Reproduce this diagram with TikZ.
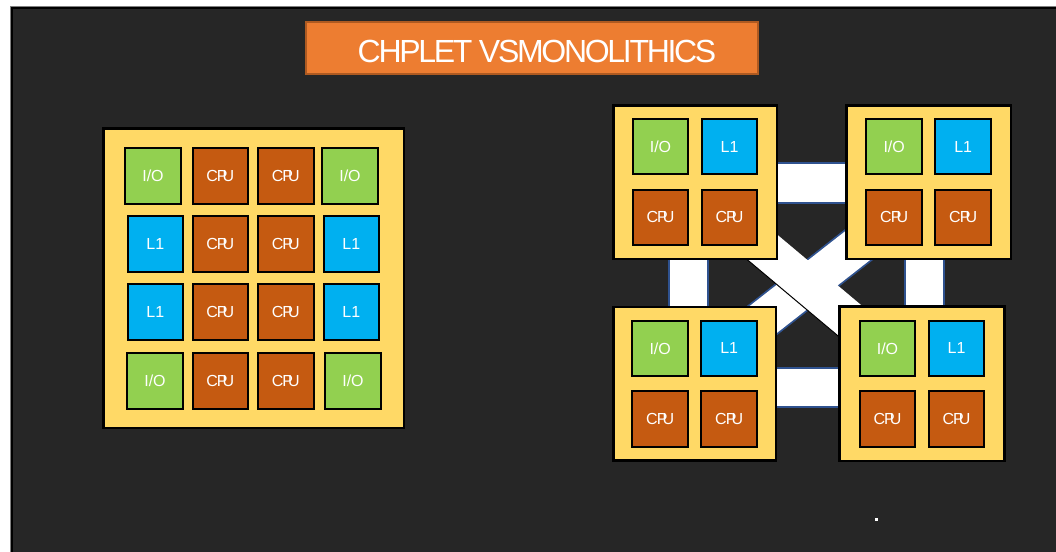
\documentclass[tikz,border=0pt]{standalone}
\usepackage{fontspec}
\setmainfont{Liberation Sans}
\newfontfamily\titlefont[LetterSpace=-7.2]{Liberation Sans}
\usetikzlibrary{calc}

\definecolor{slide}{HTML}{262626}
\definecolor{titlefill}{HTML}{ED7D31}
\definecolor{titleedge}{HTML}{AE5A21}
\definecolor{die}{HTML}{FFD966}
\definecolor{iogreen}{HTML}{92D050}
\definecolor{cacheblue}{HTML}{00B0F0}
\definecolor{corebrown}{HTML}{C55A11}
\definecolor{linkedge}{HTML}{2F528F}

\pgfdeclarelayer{slidebg}
\pgfdeclarelayer{links}
\pgfsetlayers{slidebg,links,main}

% tightly set core label
\newcommand\cpulabel{C\kern-1pt P\kern-4.8pt U}

\tikzset{
  tile/.style={draw=black, line width=2pt, inner sep=0pt,
    minimum width=55.5pt, minimum height=55.5pt,
    text=white, font=\fontsize{16}{16}\selectfont},
  io/.style={tile, fill=iogreen},
  cache/.style={tile, fill=cacheblue},
  core/.style={tile, fill=corebrown},
  diebox/.style={draw=black, line width=2.5pt, fill=die, inner sep=0pt},
  titlebox/.style={draw=titleedge, line width=2pt, fill=titlefill, inner sep=0pt},
  link/.style={draw=white, line width=37.5pt,
    preaction={draw=linkedge, line width=41.5pt}},
  xlink/.style={draw=white, line width=38.5pt},
  xedge/.style={draw=black, line width=1pt},
}

% one chiplet: name, centre x, centre y, width, height
\newcommand\chiplet[5]{%
  \node[diebox, minimum width=#4pt, minimum height=#5pt] (#1) at (#2,#3) {};
  \node[io]    (#1-io) at ($(#1.center)+(-34.5,-35.3)$) {I/O};
  \node[cache] (#1-l1) at ($(#1.center)+(34.5,-35.3)$) {L1};
  \node[core]  (#1-c1) at ($(#1.center)+(-34.5,35.3)$) {\cpulabel};
  \node[core]  (#1-c2) at ($(#1.center)+(34.5,35.3)$) {\cpulabel};
}

\begin{document}
\begin{tikzpicture}[x=1pt, y=-1pt]
\useasboundingbox (0,0) rectangle (1056,551);

% slide background
\begin{pgfonlayer}{slidebg}
  \fill[white] (0,0) rectangle (1056,551);
  \fill[slide] (11,7) rectangle (1060,560);
  \draw[gray, line width=1pt] (10.5,560) -- (10.5,6.5) -- (1060,6.5);
  \draw[black, line width=2pt] (12,560) -- (12,8.5) -- (1060,8.5);
\end{pgfonlayer}

% title
\node[titlebox, minimum width=452pt, minimum height=52pt] (titlebar) at (532,48) {};
\node[anchor=base, text=white, inner sep=0pt,
      font=\titlefont\fontsize{32}{32}\selectfont] (title) at (537,63) {CHPLET VSMONOLITHICS};

% monolithic die
\node[diebox, minimum width=300.5pt, minimum height=299.5pt] (mono) at (253.5,278) {};

\node[io]    (m11) at (153,175.9)   {I/O};
\node[core]  (m12) at (220.3,175.9) {\cpulabel};
\node[core]  (m13) at (285.8,175.9) {\cpulabel};
\node[io]    (m14) at (350,175.9)   {I/O};

\node[cache] (m21) at (155.3,243.8) {L1};
\node[core]  (m22) at (220.3,243.8) {\cpulabel};
\node[core]  (m23) at (285.8,243.8) {\cpulabel};
\node[cache] (m24) at (351.3,243.8) {L1};

\node[cache] (m31) at (155.3,311.8) {L1};
\node[core]  (m32) at (220.3,311.8) {\cpulabel};
\node[core]  (m33) at (285.8,311.8) {\cpulabel};
\node[cache] (m34) at (351.3,311.8) {L1};

\node[io]    (m41) at (155,380.8)   {I/O};
\node[core]  (m42) at (220.3,380.8) {\cpulabel};
\node[core]  (m43) at (285.8,380.8) {\cpulabel};
\node[io]    (m44) at (353,380.8)   {I/O};

% four chiplets
\chiplet{c1}{695}{182}{163.5}{153.5}
\chiplet{c2}{928.7}{182}{164.8}{153.5}
\chiplet{c3}{694.7}{383.7}{162.8}{153.5}
\chiplet{c4}{922}{383.7}{164.9}{154.8}

% interconnect bridges, behind the chiplets
\begin{pgfonlayer}{links}
  \draw[link] ([yshift=-1pt]c1.center) -- ([yshift=-1pt]c2.center);
  \draw[link] ([yshift=-3.8pt]c3.center) -- ([yshift=-3.8pt]c4.center);
  \draw[link] ([xshift=-6.6pt]c1.center) -- ([xshift=-6.3pt]c3.center);
  \draw[link] ([xshift=-4.4pt]c2.center) -- ([xshift=2.3pt]c4.center);
  \draw[link, line width=38pt, preaction={draw=linkedge, line width=41pt}]
    ($(c3.center)+(33.9,-37.1)$) -- ($(c2.center)+(-42.7,41.4)$);
  \draw[xlink] ($(c1.center)+(35.7,38.7)$) -- ($(c4.center)+(-38.1,-34.4)$);
  \draw[xedge] ($(c1.center)+(23.3,53.4)$) -- ($(c4.center)+(-50.5,-19.7)$);
\end{pgfonlayer}

% small mark near the bottom
\node[fill=white, minimum size=3pt, inner sep=0pt] (mark) at (876,519) {};
\end{tikzpicture}
\end{document}
